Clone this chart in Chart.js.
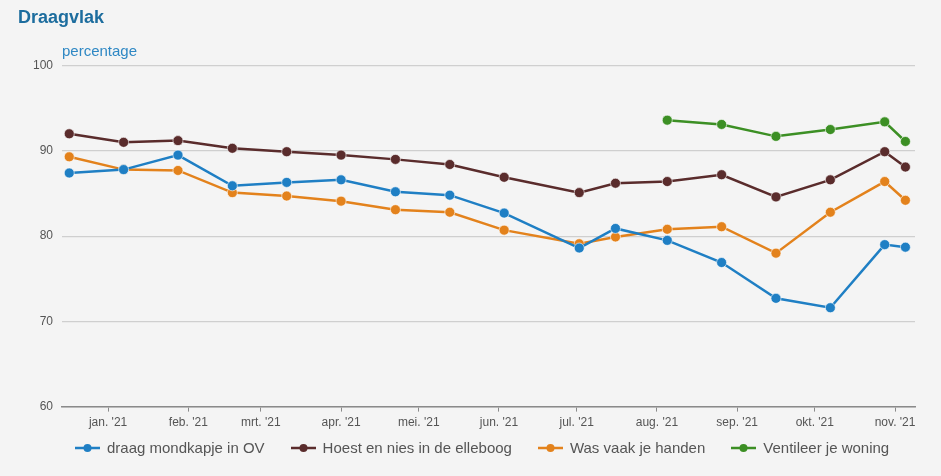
<!DOCTYPE html>
<html>
<head>
<meta charset="utf-8">
<script src="https://cdn.jsdelivr.net/npm/chart.js@4"></script>
<style>
    html, body { margin: 0; padding: 0; background: #f4f4f4; }
    #wrap { position: relative; width: 941px; height: 476px; }
    #legend {
        position: absolute;
        left: 75px;
        top: 439px;
        display: flex;
        gap: 26px;
        font-family: 'Liberation Sans', Arial, sans-serif;
        font-size: 15px;
        color: #555;
        white-space: nowrap;
    }
    #legend .item { display: flex; align-items: center; gap: 7px; }
    #legend canvas { display: block; }
</style>
</head>
<body>
<div id="wrap">
    <canvas id="chart" width="941" height="476"></canvas>
    <div id="legend"></div>
</div>
<script>
// ========================================
// DRAAGVLAK - lijngrafiek
// ========================================

// Meetmomenten (datum van elke meting)
const dates = [
    '2020-12-17', '2021-01-07', '2021-01-28', '2021-02-18', '2021-03-11', '2021-04-01',
    '2021-04-22', '2021-05-13', '2021-06-03', '2021-07-02', '2021-07-16', '2021-08-05',
    '2021-08-26', '2021-09-16', '2021-10-07', '2021-10-28', '2021-11-05'
];

// Maandlabels op de x-as
const monthStarts = ['2021-01-01', '2021-02-01', '2021-03-01', '2021-04-01', '2021-05-01', '2021-06-01',
    '2021-07-01', '2021-08-01', '2021-09-01', '2021-10-01', '2021-11-01'];
const monthLabels = ["jan. '21", "feb. '21", "mrt. '21", "apr. '21", "mei. '21", "jun. '21",
    "jul. '21", "aug. '21", "sep. '21", "okt. '21", "nov. '21"];

// Series (percentage)
const mondkapje = [87.4, 87.8, 89.5, 85.9, 86.3, 86.6, 85.2, 84.8, 82.7, 78.6, 80.9, 79.5, 76.9, 72.7, 71.6, 79.0, 78.7];
const elleboog  = [92.0, 91.0, 91.2, 90.3, 89.9, 89.5, 89.0, 88.4, 86.9, 85.1, 86.2, 86.4, 87.2, 84.6, 86.6, 89.9, 88.1];
const handen    = [89.3, 87.8, 87.7, 85.1, 84.7, 84.1, 83.1, 82.8, 80.7, 79.1, 79.9, 80.8, 81.1, 78.0, 82.8, 86.4, 84.2];
const ventileer = [null, null, null, null, null, null, null, null, null, null, null, 93.6, 93.1, 91.7, 92.5, 93.4, 91.1];

const yTicks = [60, 70, 80, 90, 100];

// Dagen sinds 1 jan 2021
function dayNum(s) {
    const p = s.split('-').map(Number);
    return (Date.UTC(p[0], p[1] - 1, p[2]) - Date.UTC(2021, 0, 1)) / 86400000;
}
const xs = dates.map(dayNum);
const monthDays = monthStarts.map(dayNum);

function toPoints(values) {
    return values.map((v, i) => ({ x: xs[i], y: v }));
}

const seriesDefs = [
    { label: 'draag mondkapje in OV', data: mondkapje, color: '#1f7fc4' },
    { label: 'Hoest en nies in de elleboog', data: elleboog, color: '#5a2c2c' },
    { label: 'Was vaak je handen', data: handen, color: '#e3821c' },
    { label: 'Ventileer je woning', data: ventileer, color: '#3c8f24' }
];

const datasets = seriesDefs.map(s => ({
    label: s.label,
    data: toPoints(s.data),
    borderColor: s.color,
    backgroundColor: s.color,
    borderWidth: 2.5,
    pointRadius: 5,
    pointBorderWidth: 1,
    pointBorderColor: 'rgba(255,255,255,0.6)',
    pointBackgroundColor: s.color,
    tension: 0,
    spanGaps: false
}));

new Chart(document.getElementById('chart').getContext('2d'), {
    type: 'line',
    data: { datasets: datasets },
    options: {
        responsive: false,
        animation: false,
        layout: {
            padding: { left: 18, right: 26, top: 5, bottom: 42 }
        },
        plugins: {
            title: {
                display: true,
                text: 'Draagvlak',
                align: 'start',
                color: '#1d6d9e',
                font: { family: 'Liberation Sans', size: 18, weight: 'bold' },
                padding: { top: 2, bottom: 4 }
            },
            subtitle: {
                display: true,
                text: 'percentage',
                align: 'start',
                fullSize: false,
                color: '#2f88c4',
                font: { family: 'Liberation Sans', size: 15 },
                padding: { top: 10, bottom: 5 }
            },
            legend: { display: false },
            tooltip: { enabled: false }
        },
        scales: {
            x: {
                type: 'linear',
                min: -17.8,
                max: 311.7,
                afterBuildTicks: function(axis) {
                    axis.ticks = monthDays.map(v => ({ value: v }));
                },
                ticks: {
                    color: '#555',
                    font: { family: 'Liberation Sans', size: 12 },
                    maxRotation: 0,
                    autoSkip: false,
                    padding: 4,
                    callback: function(value) {
                        const i = monthDays.indexOf(value);
                        return i >= 0 ? monthLabels[i] : '';
                    }
                },
                grid: {
                    drawOnChartArea: false,
                    drawTicks: true,
                    tickLength: 5,
                    color: '#8a8a8a'
                },
                border: { display: true, color: '#8a8a8a', width: 1.5 }
            },
            y: {
                min: 60,
                max: 100,
                afterBuildTicks: function(axis) {
                    axis.ticks = yTicks.map(v => ({ value: v }));
                },
                afterFit: function(axis) {
                    axis.width = 44;
                },
                ticks: {
                    color: '#555',
                    font: { family: 'Liberation Sans', size: 12 },
                    padding: 9
                },
                grid: {
                    color: '#cfcfcf',
                    lineWidth: 1.2,
                    drawTicks: false
                },
                border: { display: false }
            }
        }
    }
});

// Legenda als HTML onder de grafiek
const legendEl = document.getElementById('legend');
seriesDefs.forEach(s => {
    const item = document.createElement('div');
    item.className = 'item';
    const icon = document.createElement('canvas');
    icon.width = 25;
    icon.height = 10;
    const g = icon.getContext('2d');
    g.strokeStyle = s.color;
    g.lineWidth = 2.5;
    g.beginPath();
    g.moveTo(0, 5);
    g.lineTo(25, 5);
    g.stroke();
    g.fillStyle = s.color;
    g.beginPath();
    g.arc(12.5, 5, 4, 0, Math.PI * 2);
    g.fill();
    const label = document.createElement('span');
    label.textContent = s.label;
    item.appendChild(icon);
    item.appendChild(label);
    legendEl.appendChild(item);
});
</script>
</body>
</html>
